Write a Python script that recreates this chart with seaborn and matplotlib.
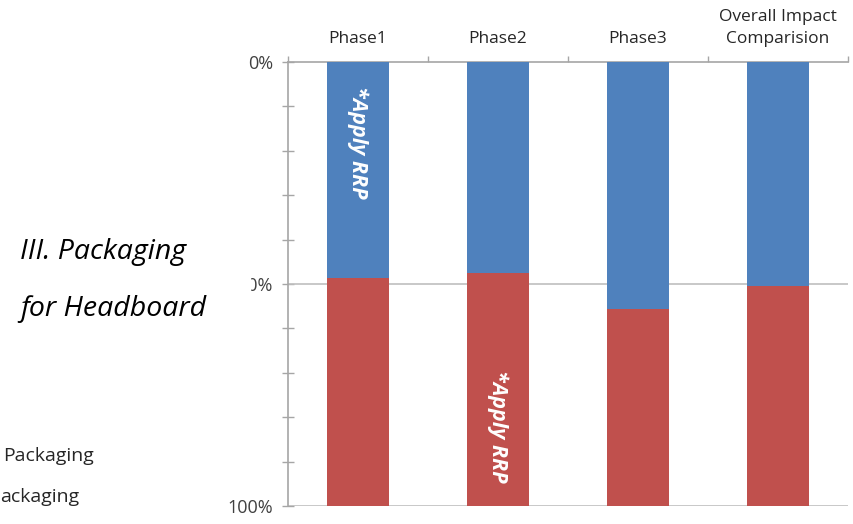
import pandas as pd
import matplotlib.pyplot as plt
import matplotlib.patches as mpatches
import seaborn as sns

# data (share of impact, 0..1)
phases = ["Phase1", "Phase2", "Phase3", "Overall Impact\nComparision"]
blue_share = [0.486, 0.475, 0.556, 0.505]
red_share = [0.514, 0.525, 0.444, 0.495]
ytick_vals = [0.0, 0.5, 1.0]
ytick_labels = ["0%", "50%", "100%"]

blue = "#4F81BD"
red = "#C0504D"
axis_grey = "#A6A6A6"

sns.set_style("white")
plt.rcParams["font.family"] = ["Open Sans", "DejaVu Sans"]

df = pd.DataFrame({"phase": phases, "blue": blue_share, "red": red_share})
df["total"] = df["blue"] + df["red"]

fig = plt.figure(figsize=(8.54, 5.24), dpi=100)
ax = fig.add_axes([288 / 854, 1 - 506 / 524, 560 / 854, 444 / 524])

# stacked 100% bars: full red first, blue part on top of it
sns.barplot(data=df, x="phase", y="total", color=red, width=0.44,
            saturation=1, linewidth=0, ax=ax, zorder=2)
sns.barplot(data=df, x="phase", y="blue", color=blue, width=0.44,
            saturation=1, linewidth=0, ax=ax, zorder=3)

ax.set_ylim(1, 0)
ax.set_xlim(-0.5, len(phases) - 0.5)
ax.set_xlabel("")
ax.set_ylabel("")

# category labels on top
ax.xaxis.tick_top()
ax.set_xticks(range(len(phases)))
ax.set_xticklabels(phases, fontsize=12.5, color="#262626", linespacing=1.5)
ax.tick_params(axis="x", which="major", length=0, pad=11)
ax.set_xticks([i - 0.5 for i in range(len(phases) + 1)], minor=True)
ax.tick_params(axis="x", which="minor", length=4, width=1, direction="out",
               color=axis_grey, top=True, bottom=False)

ax.set_yticks(ytick_vals)
ax.set_yticklabels(ytick_labels, fontsize=13, color="#404040")
ax.set_yticks([i / 10 for i in range(11)], minor=True)
ax.tick_params(axis="y", which="both", length=9, width=1, direction="inout",
               color=axis_grey, pad=6, left=True)

for y in [0.5, 1.0]:
    ax.axhline(y, color="#BFBFBF", lw=1.2, zorder=1)

for side in ["right", "bottom"]:
    ax.spines[side].set_visible(False)
for side in ["left", "top"]:
    ax.spines[side].set_color(axis_grey)
    ax.spines[side].set_linewidth(1.2)

# rotated notes on the bars
ax.text(0, 0.18, "*Apply RRP", rotation=-90, color="white", fontsize=15.5,
        fontstyle="italic", fontweight="bold", ha="center", va="center", zorder=5)
ax.text(1, 0.82, "*Apply RRP", rotation=-90, color="white", fontsize=15.5,
        fontstyle="italic", fontweight="bold", ha="center", va="center", zorder=5)

# white box covering part of the 50% label
fig.patches.append(mpatches.Rectangle((205 / 854, 1 - 302 / 524), 45 / 854, 34 / 524,
                                      transform=fig.transFigure, color="white",
                                      zorder=10))

fig.text(20 / 854, 1 - 252 / 524, "III. Packaging", fontsize=20.5,
         fontstyle="italic", color="black", va="center", zorder=11)
fig.text(20 / 854, 1 - 309 / 524, "for Headboard", fontsize=20.5,
         fontstyle="italic", color="black", va="center", zorder=11)

# legend entries, cut off at the left edge in the original
fig.text(3 / 854, 1 - 456 / 524, "Packaging", fontsize=14, color="#262626",
         va="center")
fig.text(0, 1 - 497 / 524, "ackaging", fontsize=14, color="#262626",
         va="center")

fig.savefig("out.png", dpi=100)
